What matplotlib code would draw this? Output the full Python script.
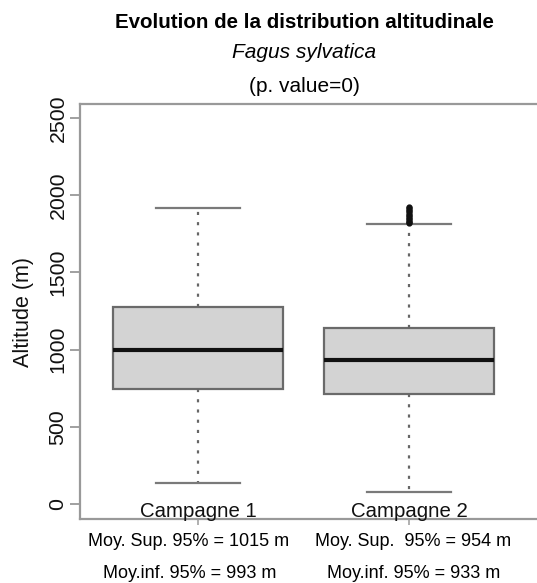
import matplotlib
matplotlib.use("Agg")
import matplotlib.pyplot as plt
import matplotlib.transforms as mtransforms

plt.rcParams['font.family'] = ['Liberation Sans', 'DejaVu Sans']

# ---- data ----
categories = ["Campagne 1", "Campagne 2"]
q1 = [745, 712]
median = [1000, 935]
q3 = [1276, 1140]
whisker_low = [136, 78]
whisker_high = [1917, 1813]
outliers_c1 = []
outliers_c2 = [1822, 1828, 1835, 1845, 1855, 1865, 1875, 1885, 1895, 1905, 1915, 1925]
sup95 = [1015, 954]
inf95 = [993, 933]
yticks = [0, 500, 1000, 1500, 2000, 2500]

W, H = 537, 583
fig = plt.figure(figsize=(W / 100, H / 100), dpi=100)
ax = fig.add_axes([80 / W, (H - 519) / H, 1 - 80 / W, 415 / H])

stats = []
outs = [outliers_c1, outliers_c2]
for i in range(len(categories)):
    stats.append(dict(med=median[i], q1=q1[i], q3=q3[i],
                      whislo=whisker_low[i], whishi=whisker_high[i],
                      fliers=outs[i], label=categories[i]))

ax.bxp(stats, positions=[1, 2], widths=0.805, patch_artist=True,
       boxprops=dict(facecolor='#d3d3d3', edgecolor='#6a6a6a', linewidth=1.6),
       medianprops=dict(color='#111111', linewidth=3.0),
       whiskerprops=dict(color='#666666', linestyle=(0, (1.4, 3.2)), linewidth=1.6),
       capprops=dict(color='#7a7a7a', linewidth=1.6),
       capwidths=0.40,
       flierprops=dict(marker='o', markersize=3.5, markerfacecolor='#111111',
                       markeredgecolor='#111111', linestyle='none'))

ax.set_xlim(1 - 118 / 211, 2 + 128 / 211)
ax.set_ylim(-97, 2591)

for s in ['right']:
    ax.spines[s].set_visible(False)
for s in ['left', 'top', 'bottom']:
    ax.spines[s].set_color('#999999')
    ax.spines[s].set_linewidth(1.6)

ax.set_yticks(yticks)
ax.set_yticklabels([str(v) for v in yticks], rotation=90, va='center', fontsize=15.3)
ax.tick_params(axis='y', length=7, width=1.3, color='#999999', pad=2, labelcolor='#111111')
ax.set_xticks([1, 2])
ax.set_xticklabels([])
ax.tick_params(axis='x', length=4, width=1.3, color='#aaaaaa')

trans = mtransforms.blended_transform_factory(ax.transData, ax.transAxes)
for i, c in enumerate(categories):
    ax.text(i + 1, 2.0 / 415, c, transform=trans, ha='center', va='baseline',
            fontsize=14.7, color='#111111')

fig.text(23 / W, 1 - 312 / H, "Altitude (m)", rotation=90, ha='center', va='center',
         fontsize=15.5, color='#111111')

# titles
fig.text(304 / W, 1 - 22 / H, "Evolution de la distribution altitudinale",
         ha='center', va='center', fontsize=14.8, fontweight='bold')
fig.text(304 / W, 1 - 53 / H, "Fagus sylvatica", ha='center', va='center',
         fontsize=15, style='italic')
fig.text(304 / W, 1 - 87 / H, "(p. value=0)", ha='center', va='center', fontsize=15)

# stats below
xs_sup = [189, 413]
for i in range(len(categories)):
    sep = " " if i == 0 else "  "
    fig.text(xs_sup[i] / W, 1 - 541 / H, f"Moy. Sup.{sep}95% = {sup95[i]} m",
             ha='center', va='center', fontsize=13)
    fig.text((xs_sup[i] + 1) / W, 1 - 573 / H, f"Moy.inf. 95% = {inf95[i]} m",
             ha='center', va='center', fontsize=13)

fig.savefig("out.png", dpi=100)
